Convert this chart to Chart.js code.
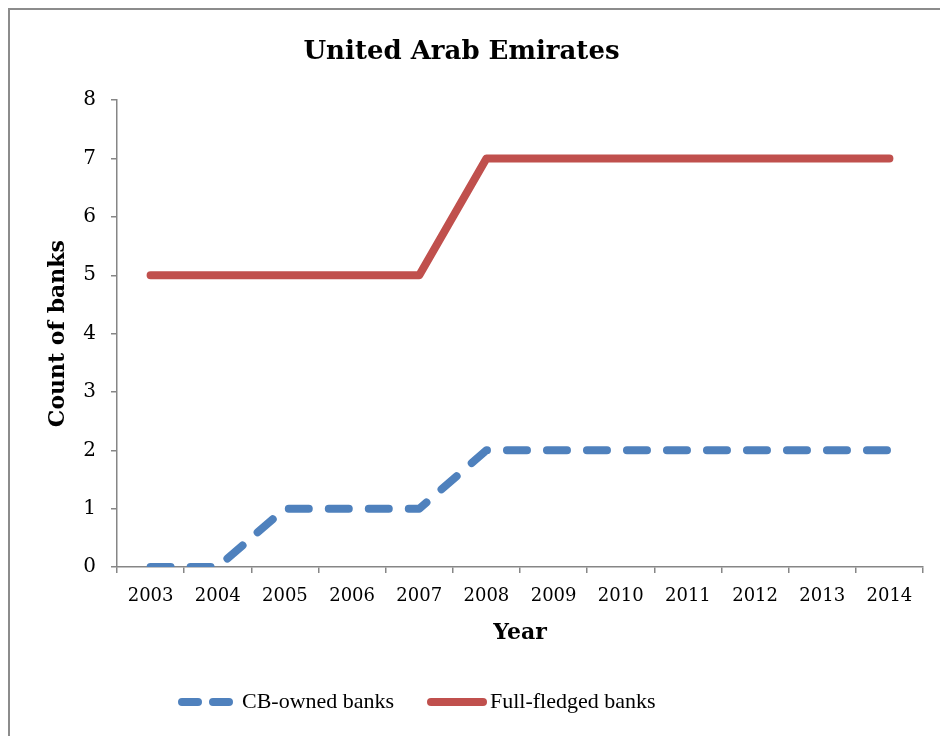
<!DOCTYPE html>
<html>
<head>
<meta charset="utf-8">
<script src="https://cdn.jsdelivr.net/npm/chart.js@4/dist/chart.umd.min.js"></script>
<style>
  html, body { margin: 0; padding: 0; background: #fff; overflow: hidden; }
  #frame {
    position: absolute; left: 8px; top: 8px; width: 960px; height: 800px;
    border: 2px solid #8c8c8c; box-sizing: border-box;
  }
  #wrap { position: absolute; left: 0; top: 0; width: 940px; height: 736px; }
</style>
</head>
<body>
<div id="frame"></div>
<div id="wrap"><canvas id="myChart" width="940" height="736"></canvas></div>
<script>
const years = ["2003", "2004", "2005", "2006", "2007", "2008", "2009", "2010", "2011", "2012", "2013", "2014"];
const cbOwned = [0, 0, 1, 1, 1, 2, 2, 2, 2, 2, 2, 2];
const fullFledged = [5, 5, 5, 5, 5, 7, 7, 7, 7, 7, 7, 7];
const yMin = 0;
const yMax = 8;

const BLUE = "#4F81BD";
const RED = "#C0504D";
const AXIS = "#868686";

// legend drawn by hand: sample line start/end and text start
const legendRow = [
  { dataset: 0, x0: 182, x1: 229, textX: 242, dash: [16, 15] },
  { dataset: 1, x0: 431, x1: 483, textX: 490, dash: [] },
];

const lineLegend = {
  id: "lineLegend",
  afterDraw(chart) {
    const ctx = chart.ctx;
    const y = 702;
    ctx.save();
    legendRow.forEach((item) => {
      const ds = chart.data.datasets[item.dataset];
      ctx.strokeStyle = ds.borderColor;
      ctx.lineWidth = ds.borderWidth;
      ctx.lineCap = "round";
      ctx.setLineDash(item.dash);
      ctx.beginPath();
      ctx.moveTo(item.x0, y);
      ctx.lineTo(item.x1, y);
      ctx.stroke();
      ctx.setLineDash([]);
      ctx.fillStyle = "#000";
      ctx.font = "22px 'Liberation Serif'";
      ctx.textBaseline = "middle";
      ctx.textAlign = "left";
      ctx.fillText(ds.label, item.textX, y);
    });
    ctx.restore();
  },
};

const ctx = document.getElementById("myChart");

new Chart(ctx, {
  type: "line",
  data: {
    labels: years,
    datasets: [
      {
        label: "CB-owned banks",
        data: cbOwned,
        borderColor: BLUE,
        backgroundColor: BLUE,
        borderWidth: 8,
        borderDash: [20, 20],
        borderCapStyle: "round",
        borderJoinStyle: "round",
        pointRadius: 0,
        tension: 0,
        fill: false,
      },
      {
        label: "Full-fledged banks",
        data: fullFledged,
        borderColor: RED,
        backgroundColor: RED,
        borderWidth: 8,
        borderCapStyle: "round",
        borderJoinStyle: "round",
        pointRadius: 0,
        tension: 0,
        fill: false,
      },
    ],
  },
  options: {
    responsive: false,
    animation: false,
    layout: { padding: { left: 0, right: 17, top: 0, bottom: 0 } },
    plugins: {
      legend: { display: false },
      tooltip: { enabled: false },
      title: {
        display: true,
        text: "United Arab Emirates",
        color: "#000",
        font: { family: "'DejaVu Serif'", size: 26, weight: "bold", lineHeight: 1.2 },
        padding: { top: 37, bottom: 32 },
      },
    },
    scales: {
      x: {
        type: "category",
        offset: true,
        grid: { offset: true, drawOnChartArea: false, drawTicks: true, tickLength: 6, color: AXIS, lineWidth: 1.5 },
        border: { color: AXIS, width: 1.5 },
        ticks: { color: "#000", padding: 13, maxRotation: 0, font: { family: "'DejaVu Serif'", size: 18 } },
        title: {
          display: true,
          text: "Year",
          color: "#000",
          font: { family: "'DejaVu Serif'", size: 22, weight: "bold", lineHeight: 1.2 },
          padding: { top: 0, bottom: 90 },
        },
        afterFit(scale) {
          scale.height = 736 - 567;
        },
      },
      y: {
        min: yMin,
        max: yMax,
        grid: { drawOnChartArea: false, drawTicks: true, tickLength: 6, color: AXIS, lineWidth: 1.5 },
        border: { color: AXIS, width: 1.5 },
        ticks: { stepSize: 1, color: "#000", padding: 15, font: { family: "'DejaVu Serif'", size: 20 } },
        title: {
          display: true,
          text: "Count of banks",
          color: "#000",
          font: { family: "'DejaVu Serif'", size: 22, weight: "bold", lineHeight: 1.2 },
          padding: { top: 45, bottom: 0 },
        },
        afterFit(scale) {
          scale.width = 117;
        },
      },
    },
  },
  plugins: [lineLegend],
});
</script>
</body>
</html>
